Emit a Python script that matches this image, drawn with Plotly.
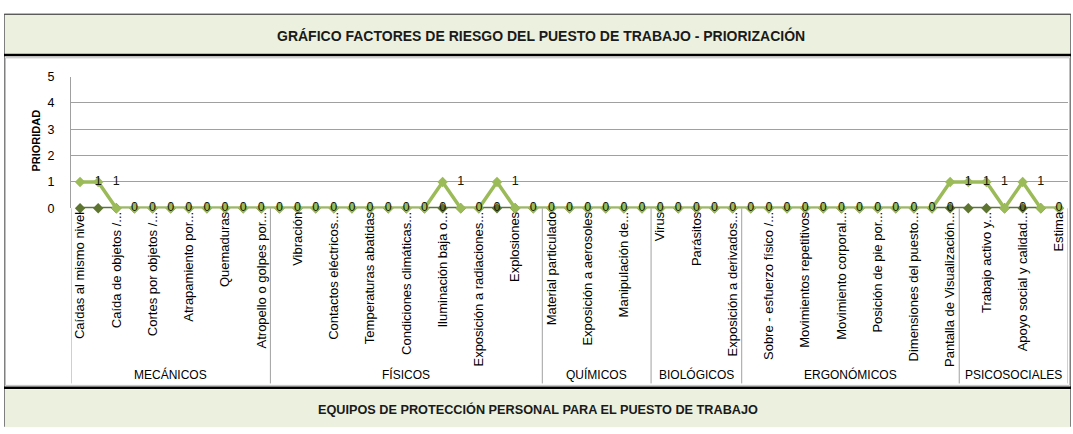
import plotly.graph_objects as go

W, H = 1073, 434

# Risk factor groups and how many factors each one holds
groups = ["MECÁNICOS", "FÍSICOS", "QUÍMICOS", "BIOLÓGICOS", "ERGONÓMICOS", "PSICOSOCIALES"]
group_sizes = [11, 15, 6, 5, 12, 6]

# Factor names shown on the axis (every second factor is labelled)
tick_labels = [
    "Caídas al mismo nivel", "Caída de objetos /...", "Cortes por objetos /...",
    "Atrapamiento por...", "Quemaduras", "Atropello o golpes por...",
    "Vibración", "Contactos eléctricos...", "Temperaturas abatidas",
    "Condiciones climáticas...", "Iluminación baja o...", "Exposición a radiaciones...",
    "Explosiones", "Material particulado", "Exposición a aerosoles",
    "Manipulación de...", "Virus", "Parásitos", "Exposición a derivados...",
    "Sobre - esfuerzo físico /...", "Movimientos repetitivos", "Movimiento corporal...",
    "Posición de pie por...", "Dimensiones del puesto...", "Pantalla de Visualización...",
    "Trabajo activo y...", "Apoyo social y calidad...", "Estima",
]

# Priority per factor
prioridad = [1, 1, 0, 0, 0, 0, 0, 0, 0, 0, 0,
             0, 0, 0, 0, 0, 0, 0, 0, 0, 1, 0, 0, 1, 0, 0,
             0, 0, 0, 0, 0, 0,
             0, 0, 0, 0, 0,
             0, 0, 0, 0, 0, 0, 0, 0, 0, 0, 0, 1,
             1, 1, 0, 1, 0, 0]
base = [0, 0, 0, 0, 0, 0, 0, 0, 0, 0, 0,
        0, 0, 0, 0, 0, 0, 0, 0, 0, 0, 0, 0, 0, 0, 0,
        0, 0, 0, 0, 0, 0,
        0, 0, 0, 0, 0,
        0, 0, 0, 0, 0, 0, 0, 0, 0, 0, 0, 0,
        0, 0, 0, 0, 0, 0]

n = len(prioridad)
idx = list(range(n))


def px(x):
    return x / W


def py(y):
    return 1 - y / H


LIGHT = "#9bbb59"
DARK = "#5d7530"
GRID = "#a0a0a0"
FONT = "Liberation Sans"

fig = go.Figure()
fig.add_trace(go.Scatter(
    x=idx, y=base, mode="lines+markers",
    line=dict(color=DARK, width=3),
    marker=dict(symbol="diamond", size=8, color=DARK),
    hoverinfo="skip", showlegend=False, cliponaxis=False,
))
fig.add_trace(go.Scatter(
    x=idx, y=prioridad, mode="lines+markers",
    line=dict(color=LIGHT, width=3.5),
    marker=dict(symbol="diamond", size=8, color=LIGHT),
    hoverinfo="skip", showlegend=False, cliponaxis=False,
))
# value labels sit one step to the right of their point (the last one falls off the axis)
lab_vals = prioridad[:-1]
fig.add_trace(go.Scatter(
    x=[i + 1 for i in range(len(lab_vals))], y=lab_vals, mode="text",
    text=[str(v) for v in lab_vals],
    textfont=dict(family=FONT, size=12.5, color="#111808"),
    textposition="middle center",
    hoverinfo="skip", showlegend=False, cliponaxis=False,
))

shapes = []
# outer frame
shapes.append(dict(type="rect", xref="paper", yref="paper",
                   x0=px(4.5), x1=px(1070.5), y0=py(433.5), y1=py(7.5),
                   line=dict(color="#7f7f7f", width=1), fillcolor="white", layer="below"))
# heading band
shapes.append(dict(type="rect", xref="paper", yref="paper",
                   x0=px(5), x1=px(1070), y0=py(48), y1=py(8),
                   line=dict(width=0), fillcolor="#ebf1de", layer="below"))
shapes.append(dict(type="line", xref="paper", yref="paper",
                   x0=px(4), x1=px(1071), y0=py(7.5), y1=py(7.5),
                   line=dict(color="#404040", width=1)))
shapes.append(dict(type="line", xref="paper", yref="paper",
                   x0=px(4), x1=px(1071), y0=py(49.5), y1=py(49.5),
                   line=dict(color="black", width=2.5)))
# chart area border
shapes.append(dict(type="rect", xref="paper", yref="paper",
                   x0=px(5.5), x1=px(1069.5), y0=py(391), y1=py(52.5),
                   line=dict(color="#bfbfbf", width=1), layer="below"))
# footer band
shapes.append(dict(type="line", xref="paper", yref="paper",
                   x0=px(4), x1=px(1071), y0=py(393.5), y1=py(393.5),
                   line=dict(color="black", width=2.5)))
shapes.append(dict(type="rect", xref="paper", yref="paper",
                   x0=px(5), x1=px(1070), y0=py(434), y1=py(395),
                   line=dict(width=0), fillcolor="#ebf1de", layer="below"))

# group dividers on the category axis
bounds = [-0.5]
for s in group_sizes:
    bounds.append(bounds[-1] + s)
for b in bounds:
    shapes.append(dict(type="line", xref="x", yref="paper",
                       x0=b, x1=b, y0=py(208), y1=py(389),
                       line=dict(color=GRID, width=1)))

annotations = []
for g, a, b in zip(groups, bounds[:-1], bounds[1:]):
    annotations.append(dict(text=g, x=(a + b) / 2, xref="x", y=py(380), yref="paper",
                            showarrow=False, font=dict(family=FONT, size=12, color="black"),
                            xanchor="center", yanchor="middle"))
annotations.append(dict(text="<b>GRÁFICO FACTORES DE RIESGO DEL PUESTO DE TRABAJO - PRIORIZACIÓN</b>",
                        x=px(541), y=py(29), xref="paper", yref="paper", showarrow=False,
                        font=dict(family=FONT, size=14, color="#1a1a1a"),
                        xanchor="center", yanchor="middle"))
annotations.append(dict(text="<b>EQUIPOS DE PROTECCIÓN PERSONAL PARA EL PUESTO DE TRABAJO</b>",
                        x=px(538), y=py(416), xref="paper", yref="paper", showarrow=False,
                        font=dict(family=FONT, size=12.7, color="#1a1a1a"),
                        xanchor="center", yanchor="middle"))
annotations.append(dict(text="<b>PRIORIDAD</b>", x=px(36), y=py(138), xref="paper", yref="paper",
                        showarrow=False, textangle=-90,
                        font=dict(family=FONT, size=11, color="black"),
                        xanchor="center", yanchor="middle"))

fig.update_layout(
    width=W, height=H,
    margin=dict(l=0, r=0, t=0, b=0),
    paper_bgcolor="white", plot_bgcolor="white",
    shapes=shapes, annotations=annotations,
    xaxis=dict(
        domain=[px(71), px(1068)], range=[-0.5, n - 0.5],
        tickmode="array", tickvals=idx[::2], ticktext=tick_labels,
        tickangle=-90, tickfont=dict(family=FONT, size=13, color="black"),
        showgrid=False, zeroline=False, showline=False, ticks="",
    ),
    yaxis=dict(
        domain=[py(208), py(72)], range=[0, 5], dtick=1,
        showgrid=True, gridcolor=GRID, gridwidth=1,
        zeroline=False, showline=True, linecolor=GRID, linewidth=1,
        ticks="", ticklabelstandoff=13,
        tickfont=dict(family=FONT, size=12.5, color="black"),
    ),
)

fig.write_html("out.html")
